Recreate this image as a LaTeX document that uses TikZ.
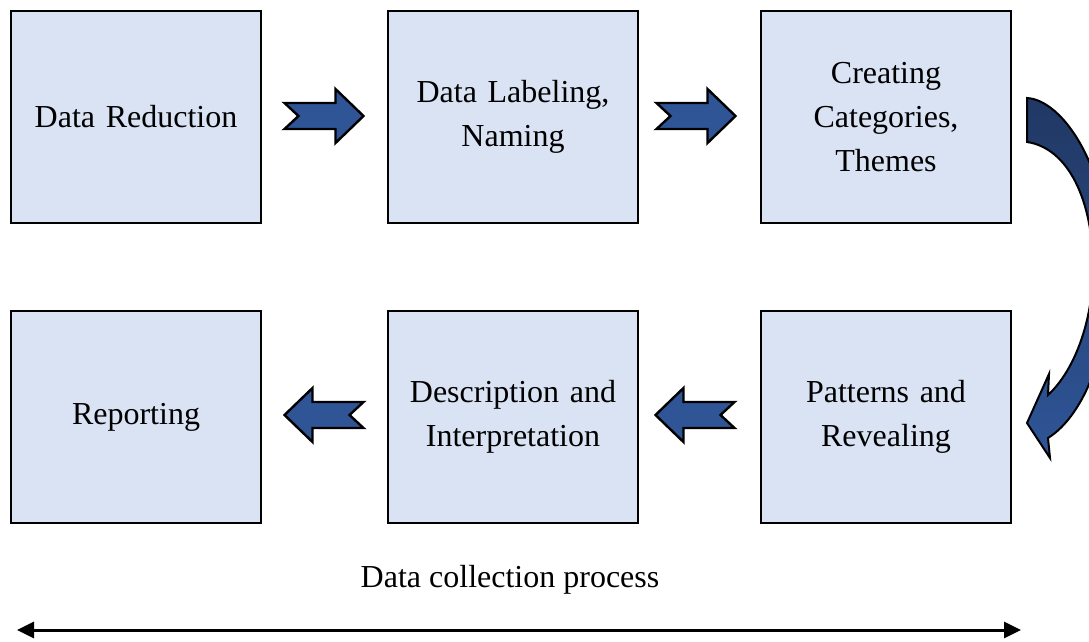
\documentclass[tikz,border=0pt]{standalone}
\usepackage{fontspec}
\setmainfont{Liberation Serif}
\usetikzlibrary{arrows.meta,calc}
\definecolor{boxfill}{HTML}{DAE3F3}
\definecolor{arrowblue}{HTML}{2F5597}
\definecolor{arrowdark}{HTML}{203864}
\begin{document}
\begin{tikzpicture}[x=1pt,y=-1pt,
  stage/.style={draw=black, line width=2pt, fill=boxfill,
    minimum width=250pt, minimum height=212pt, inner sep=0pt,
    align=center, text width=230pt,
    font=\fontsize{32}{44}\selectfont},
  caption/.style={font=\fontsize{32}{44}\selectfont},
  blockarrow/.pic={
    \draw[line width=2.4pt, fill=arrowblue, line join=miter]
      (-39,-13) -- (12,-13) -- (12,-27) -- (40,0) -- (12,27)
      -- (12,13) -- (-39,13) -- (-25,0) -- cycle;}
]
\useasboundingbox (0,0) rectangle (1089,641);

% top row
\node[stage] (reduce)  at (136,117) {Data Reduction};
\node[stage] (label)   at (513,117) {Data Labeling,\\Naming};
\node[stage] (themes)  at (886,117) {Creating\\Categories,\\Themes};
% bottom row
\node[stage] (report)  at (136,417) {Reporting};
\node[stage] (describe) at (513,417) {Description and\\Interpretation};
\node[stage] (pattern) at (886,417) {Patterns and\\Revealing};

% block arrows between the stages
\pic at ($(reduce.east)!0.5!(label.west)+(-1,-1)$) {blockarrow};
\pic at ($(label.east)!0.5!(themes.west)+(-4,-1)$) {blockarrow};
\pic[rotate=180] at ($(report.east)!0.5!(describe.west)+(0,-2)$) {blockarrow};
\pic[rotate=180] at ($(describe.east)!0.5!(pattern.west)+(-4,-2)$) {blockarrow};

% curved arrow from the top row down to the bottom row
\begin{scope}
\clip (0,0) rectangle (1089,641);
\draw[line width=2pt, line join=miter, top color=arrowdark, bottom color=arrowblue]
  (1027,98) .. controls (1062,100) and (1108,165) .. (1110,265)
  .. controls (1112,345) and (1085,415) .. (1048,438)
  -- (1050,458) -- (1027,423) -- (1049,374) -- (1048,395)
  .. controls (1075,370) and (1093,320) .. (1093,268)
  .. controls (1093,200) and (1068,148) .. (1027,142) -- cycle;
\end{scope}

% overall process span
\node[caption] (process) at (510,580) {Data collection process};
\coordinate (spanL) at (17,630);
\coordinate (spanR) at (1021,630);
\draw[line width=3pt, {Triangle[length=17pt,width=16pt]}-{Triangle[length=17pt,width=16pt]}]
  (spanL) -- (spanR);
\end{tikzpicture}
\end{document}
